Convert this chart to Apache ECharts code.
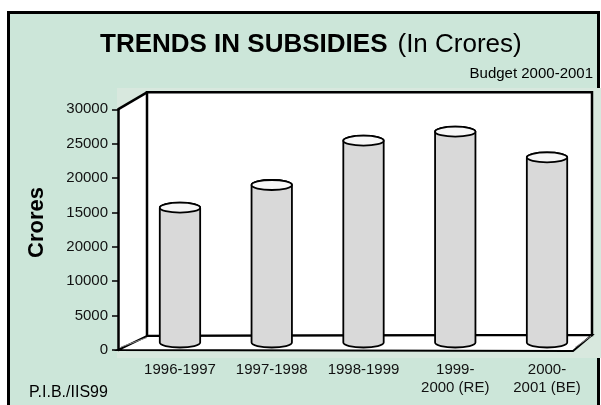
<!DOCTYPE html>
<html>
<head>
<meta charset="utf-8">
<script src="https://cdn.jsdelivr.net/npm/echarts@6/dist/echarts.min.js"></script>
<style>
html,body{margin:0;padding:0;background:#ffffff;}
#chart{width:601px;height:405px;}
</style>
</head>
<body>
<div id="chart"></div>
<script>
// ---- data ----
const categories = ['1996-1997', '1997-1998', '1998-1999', '1999-\n2000 (RE)', '2000-\n2001 (BE)'];
const subsidies = [19660, 22970, 29430, 30740, 27010];
const yTickLabels = ['0', '5000', '10000', '20000', '15000', '20000', '25000', '30000'];
const titleBold = 'TRENDS IN SUBSIDIES';
const titleNormal = '(In Crores)';
const subTitle = 'Budget 2000-2001';
const yName = 'Crores';
const footNote = 'P.I.B./IIS99';

const FONT = '"Liberation Sans", Arial, Helvetica, sans-serif';
const BG = '#cce6d9';

const chart = echarts.init(document.getElementById('chart'), null, {renderer: 'canvas'});

function frameRender(params, api) {
  const fl = api.coord([0, 0]);      // front bottom left
  const fr = api.coord([1, 0]);      // front bottom right
  const ft = api.coord([0, 35000]);  // front top left
  const bl = [fl[0] + 29, fl[1] - 14];
  const br = [fr[0] + 19, fr[1] - 15];
  const bt = [ft[0] + 29, ft[1] - 17];
  const btr = [br[0], bt[1]];
  return {
    type: 'group',
    children: [
      { type: 'polygon', shape: { points: [ft, bt, bl, fl] },
        style: { fill: '#ffffff', stroke: null } },
      { type: 'polygon', shape: { points: [bt, btr, br, bl] },
        style: { fill: '#ffffff', stroke: '#000', lineWidth: 2.5, lineJoin: 'miter' } },
      { type: 'polyline', shape: { points: [ft, bt] },
        style: { stroke: '#000', lineWidth: 2.5, fill: null } },
      { type: 'polygon', shape: { points: [fl, bl, br, [fr[0], fr[1] + 1]] },
        style: { fill: '#ffffff', stroke: '#000', lineWidth: 2 } },
      { type: 'polyline', shape: { points: [[fl[0] + 3, fl[1] - 3], [bl[0], bl[1] + 1.5]] },
        style: { stroke: '#888', lineWidth: 1, fill: null } },
      { type: 'polyline', shape: { points: [[fr[0] + 2, fr[1] - 2.5], [br[0] - 1, br[1] + 1]] },
        style: { stroke: '#888', lineWidth: 1, fill: null } }
    ]
  };
}

function cylRender(params, api) {
  const top = api.coord([api.value(0), api.value(1)]);
  const base = api.coord([api.value(0), 0]);
  const w = api.size([1, 0])[0] * 0.44;
  const rx = w / 2, ry = 5;
  const l = top[0] - rx, r = top[0] + rx;
  const yt = top[1], yb = base[1];
  const body = `M ${l} ${yt} L ${l} ${yb} A ${rx} ${ry} 0 0 0 ${r} ${yb} L ${r} ${yt} A ${rx} ${ry} 0 0 0 ${l} ${yt} Z`;
  const cap = `M ${l} ${yt} A ${rx} ${ry} 0 0 0 ${r} ${yt} A ${rx} ${ry} 0 0 0 ${l} ${yt} Z`;
  return {
    type: 'group',
    children: [
      { type: 'path', shape: { pathData: body },
        style: { fill: '#d9d9d9', stroke: '#000', lineWidth: 1.8 } },
      { type: 'path', shape: { pathData: cap },
        style: { fill: '#f7f7f7', stroke: '#000', lineWidth: 1.8 } }
    ]
  };
}

const option = {
  animation: false,
  backgroundColor: '#ffffff',
  graphic: [
    { type: 'rect', z: -10, shape: { x: 8.5, y: 12.5, width: 590, height: 420 },
      style: { fill: BG, stroke: '#000', lineWidth: 3 } },
    { type: 'rect', z: -9, shape: { x: 117, y: 88, width: 484, height: 270 },
      style: { fill: '#d8e8de' } },
    { type: 'text', z: 10, style: {
        x: 100, y: 45, textVerticalAlign: 'middle', textAlign: 'left',
        text: '{b|' + titleBold + '}{n|' + titleNormal + '}',
        rich: {
          b: { font: 'bold 26px ' + FONT, fill: '#000' },
          n: { font: '26px ' + FONT, fill: '#000', padding: [0, 0, 0, 10] }
        }
      } },
    { type: 'text', z: 10, style: { x: 593, y: 74, text: subTitle, textAlign: 'right',
        textVerticalAlign: 'middle', font: '15px ' + FONT, fill: '#000' } },
    { type: 'text', z: 10, rotation: Math.PI / 2, x: 36.5, y: 222.5,
      style: { x: 0, y: 0, text: yName, textAlign: 'center',
        textVerticalAlign: 'middle', font: 'bold 22px ' + FONT, fill: '#000' } },
    { type: 'text', z: 10, style: { x: 29, y: 393, text: footNote, textAlign: 'left',
        textVerticalAlign: 'middle', font: '16px ' + FONT, fill: '#000' } }
  ],
  grid: [
    { left: 118, right: 28, top: 109.3, bottom: 55 },
    { left: 134.1, right: 8.1, top: 102.5, bottom: 62.5 }
  ],
  xAxis: [
    { gridIndex: 0, type: 'value', min: 0, max: 1, show: false },
    { gridIndex: 1, type: 'category', data: categories,
      axisLine: { show: false }, axisTick: { show: false },
      axisLabel: { interval: 0, margin: 18, fontFamily: FONT, fontSize: 15,
        color: '#111', lineHeight: 18 } }
  ],
  yAxis: [
    { gridIndex: 0, type: 'value', min: 0, max: 35000, interval: 5000,
      axisLine: { show: true, lineStyle: { color: '#000', width: 2.5 } },
      axisTick: { show: true, length: 6, lineStyle: { color: '#000', width: 1.5 } },
      splitLine: { show: false },
      axisLabel: { margin: 10, fontFamily: FONT, fontSize: 15, color: '#111',
        formatter: function (v) { return yTickLabels[Math.round(v / 5000)]; } },
      z: 5 },
    { gridIndex: 1, type: 'value', min: 0, max: 35000, interval: 5000, show: false,
      splitLine: { show: false } }
  ],
  series: [
    { type: 'custom', xAxisIndex: 0, yAxisIndex: 0, z: 1, silent: true,
      renderItem: frameRender, data: [[0, 0]] },
    { type: 'custom', xAxisIndex: 1, yAxisIndex: 1, z: 3,
      renderItem: cylRender,
      encode: { x: 0, y: 1 },
      data: subsidies.map((v, i) => [i, v]) }
  ]
};
chart.setOption(option);
</script>
</body>
</html>
